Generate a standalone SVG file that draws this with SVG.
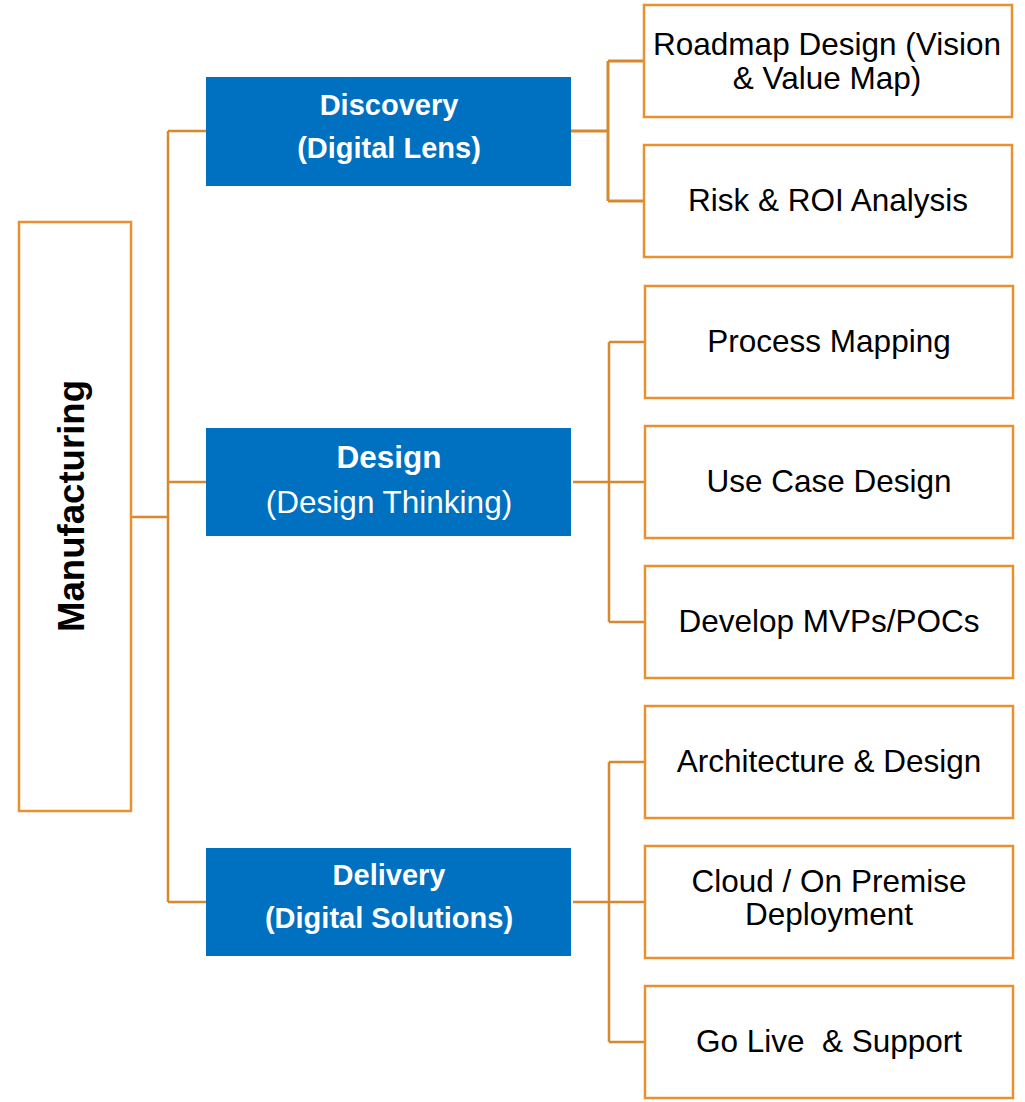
<svg xmlns="http://www.w3.org/2000/svg" width="1025" height="1102" viewBox="0 0 1025 1102">
<style>
.conn{fill:none;stroke:#D6892E;stroke-width:2.5}
.child{fill:#fff;stroke:#E8912E;stroke-width:2.5}
.root{fill:#fff;stroke:#E8912E;stroke-width:2.5}
.blue{fill:#0070C0}
.ct{font-family:"Liberation Sans",Arial,sans-serif;font-size:31.5px;fill:#000;text-anchor:middle}
.bt{font-family:"Liberation Sans",Arial,sans-serif;font-size:29px;fill:#fff;text-anchor:middle;font-weight:bold}
.btr{font-family:"Liberation Sans",Arial,sans-serif;font-size:31.5px;fill:#fff;text-anchor:middle}
.rt{font-family:"Liberation Sans",Arial,sans-serif;font-size:36px;fill:#000;text-anchor:middle;font-weight:bold}
</style>
<rect width="1025" height="1102" fill="#fff"/>
<g id="connectors">
<path class="conn" d="M131 517H168M168 131V902M168 131H206M168 482H206M168 902H206"/>
<path class="conn" style="stroke-width:3" d="M571 131H608M608 61V201M608 61H644M608 201H644"/>
<path class="conn" d="M573 482H644M609 342V622M609 342H644M609 622H644"/>
<path class="conn" d="M573 902H644M609 762V1042M609 762H644M609 1042H644"/>
</g>
<g id="manufacturing">
<rect class="root" x="19" y="222" width="112" height="589"/>
<text class="rt" transform="translate(84,506) rotate(-90)" x="0" y="0" textLength="252" lengthAdjust="spacingAndGlyphs">Manufacturing</text>
</g>
<g id="discovery">
<rect class="blue" x="206" y="77" width="365" height="109"/>
<text class="bt" x="389" y="115">Discovery</text>
<text class="bt" x="389" y="158">(Digital Lens)</text>
</g>
<g id="design">
<rect class="blue" x="206" y="428" width="365" height="108"/>
<text class="bt" x="389" y="468" style="font-size:31.5px">Design</text>
<text class="btr" x="389" y="513">(Design Thinking)</text>
</g>
<g id="delivery">
<rect class="blue" x="206" y="848" width="365" height="108"/>
<text class="bt" x="389" y="885">Delivery</text>
<text class="bt" x="389" y="928">(Digital Solutions)</text>
</g>
<g id="roadmap">
<rect class="child" x="644" y="5" width="368" height="112"/>
<text class="ct" x="827" y="55">Roadmap Design (Vision</text>
<text class="ct" x="827" y="89">&amp; Value Map)</text>
</g>
<g id="risk">
<rect class="child" x="644" y="145" width="368" height="112"/>
<text class="ct" x="828" y="211">Risk &amp; ROI Analysis</text>
</g>
<g id="process">
<rect class="child" x="645" y="286" width="368" height="112"/>
<text class="ct" x="829" y="352">Process Mapping</text>
</g>
<g id="usecase">
<rect class="child" x="645" y="426" width="368" height="112"/>
<text class="ct" x="829" y="492">Use Case Design</text>
</g>
<g id="mvp">
<rect class="child" x="645" y="566" width="368" height="112"/>
<text class="ct" x="829" y="632">Develop MVPs/POCs</text>
</g>
<g id="architecture">
<rect class="child" x="645" y="706" width="368" height="112"/>
<text class="ct" x="829" y="772">Architecture &amp; Design</text>
</g>
<g id="cloud">
<rect class="child" x="645" y="846" width="368" height="112"/>
<text class="ct" x="829" y="892">Cloud / On Premise</text>
<text class="ct" x="829" y="925">Deployment</text>
</g>
<g id="golive">
<rect class="child" x="645" y="986" width="368" height="112"/>
<text class="ct" x="829" y="1052" xml:space="preserve">Go Live  &amp; Support</text>
</g>
</svg>
